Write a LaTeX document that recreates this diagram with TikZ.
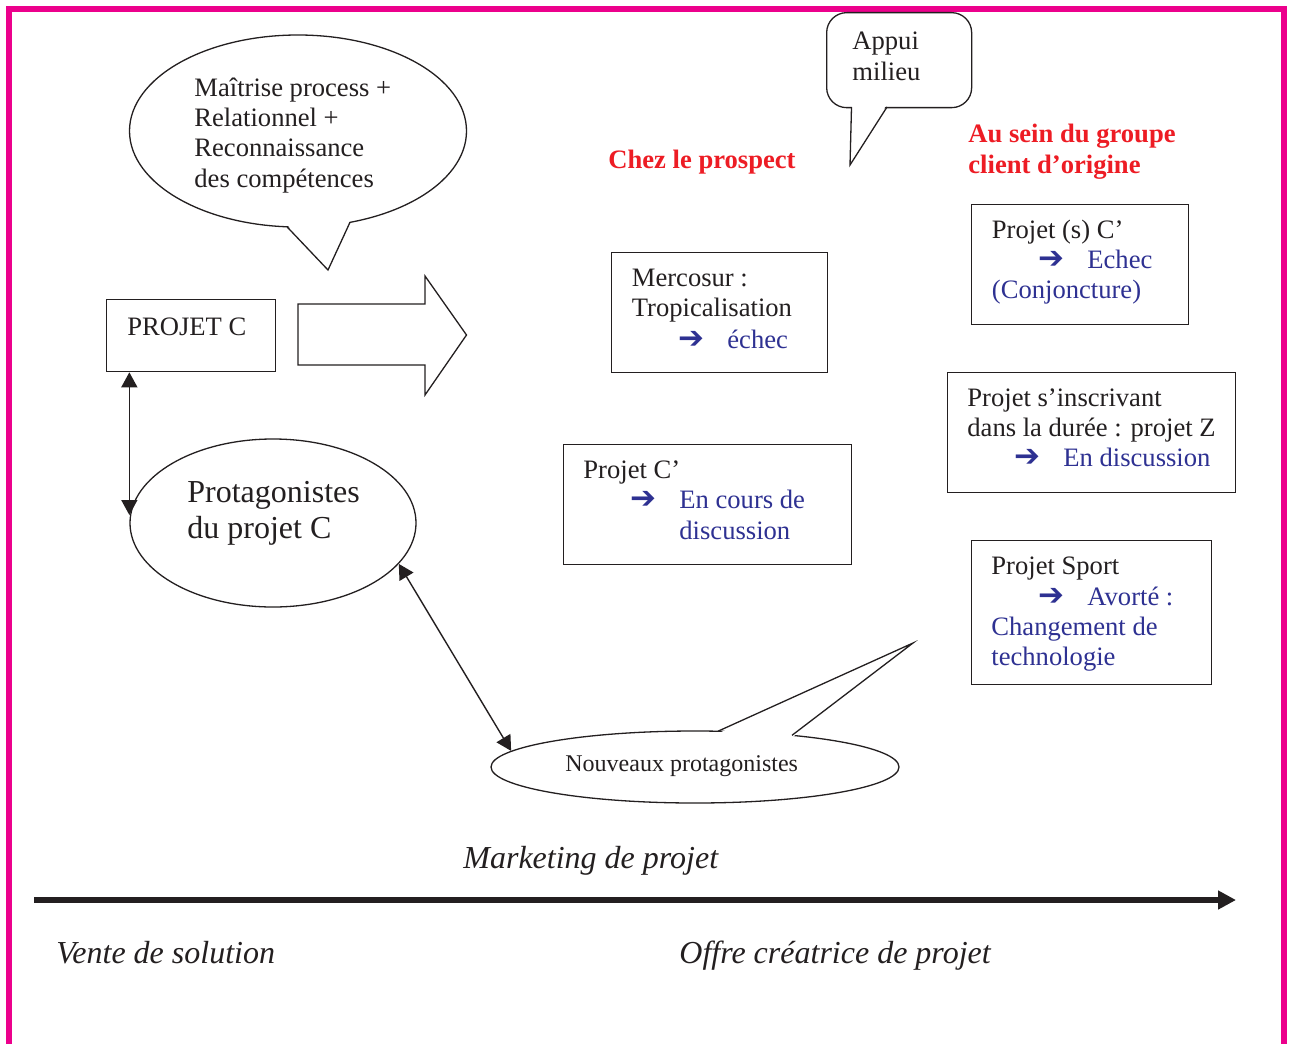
\documentclass[tikz,border=0pt]{standalone}
\usepackage{fontspec}
\setmainfont{Liberation Serif}
\newfontfamily\dejavu{DejaVu Sans}
\usetikzlibrary{shapes.geometric,arrows.meta}
\definecolor{ink}{RGB}{35,31,32}
\definecolor{myblue}{RGB}{46,49,146}
\definecolor{myred}{RGB}{237,28,36}
\definecolor{mymag}{RGB}{236,0,140}
\tikzset{
  lw/.style={line width=0.65pt},
  box/.style={draw=ink, lw, anchor=north west, inner sep=0pt, fill=white},
  bubble/.style={draw=ink, lw, ellipse, inner sep=0pt, fill=white},
  txt/.style={anchor=base west, inner sep=0pt, text=ink, font=\fontsize{13.3}{15.3}\selectfont},
  btxt/.style={txt, text=myblue},
  rtxt/.style={txt, text=myred, font=\bfseries\fontsize{13.3}{15.3}\selectfont},
  itxt/.style={txt, font=\itshape\fontsize{16}{18}\selectfont},
  arr/.style={anchor=base west, inner sep=0pt, text=myblue, font=\dejavu\bfseries\fontsize{15.5}{17}\selectfont},
  dbl/.style={draw=ink, line width=0.7pt, {Triangle[length=7.5pt,width=8pt]}-{Triangle[length=7.5pt,width=8pt]}},
}
\begin{document}
\begin{tikzpicture}[x=0.5pt,y=-0.5pt]
\useasboundingbox (0,0) rectangle (1293,1043);
% frame
\draw[mymag, line width=3.25pt] (9,1100) -- (9,9) -- (1284,9) -- (1284,1100);

% bubble 1
\node[bubble, minimum width=168.5pt, minimum height=96pt] (e1) at (298,131) {};
\fill[white] (287,224.8) -- (328,270) -- (350,220.3) -- cycle;
\draw[ink, lw] (287,226.8) -- (328,270) -- (350,222.3);
\node[txt] (e1a) at (194,96.7) {Maîtrise process +};
\node[txt] (e1b) at (194,126.8) {Relationnel +};
\node[txt] (e1c) at (194,157) {Reconnaissance};
\node[txt] (e1d) at (194,187.2) {des compétences};

% Projet C
\node[box, minimum width=84.5pt, minimum height=36pt] (pc) at (106,299) {};
\node[txt] (pct) at (127,335) {PROJET C};

% block arrow
\draw[ink, lw, fill=white] (298,304) -- (425,304) -- (425,276) -- (466.5,335) -- (425,395) -- (425,365) -- (298,365) -- cycle;

% Protagonistes
\node[bubble, minimum width=143pt, minimum height=84pt] (prot) at (273,523) {};
\node[txt, font=\fontsize{16}{18}\selectfont] (pr1) at (187,502.5) {Protagonistes};
\node[txt, font=\fontsize{16}{18}\selectfont] (pr2) at (187,538.5) {du projet C};
\draw[dbl, shorten >=4pt] (prot.west |- pc.south) -- (prot.west);

% Appui milieu
\node[box, rounded corners=10pt, minimum width=72.5pt, minimum height=47.5pt] (ap) at (826,12) {};
\fill[white] (851.5,104) -- (850,165) -- (887,104) -- cycle;
\draw[ink, lw] (851.5,107) -- (850,165) -- (887,107);
\node[txt] (ap1) at (852,50) {Appui};
\node[txt] (ap2) at (852,80.5) {milieu};

% headings
\node[rtxt] (h1) at (608,168.3) {Chez le prospect};
\node[rtxt] (h2) at (968,142.7) {Au sein du groupe};
\node[rtxt] (h3) at (968,173.3) {client d’origine};

% Mercosur
\node[box, minimum width=108pt, minimum height=60pt] (mer) at (610.5,251.5) {};
\node[txt] (mer1) at (631.5,286.7) {Mercosur :};
\node[txt] (mer2) at (631.5,316.5) {Tropicalisation};
\node[arr] (mer3) at (678,348.3) {➔};
\node[btxt] (mer4) at (727,348.3) {échec};

% Projet (s) C'
\node[box, minimum width=108.5pt, minimum height=60pt] (ps) at (970.5,203.5) {};
\node[txt] (ps1) at (991.5,238.3) {Projet (s) C’};
\node[arr] (ps2) at (1038,268.3) {➔};
\node[btxt] (ps3) at (1087,268.3) {Echec};
\node[btxt] (ps4) at (991.5,298.6) {(Conjoncture)};

% Projet s'inscrivant
\node[box, minimum width=144pt, minimum height=60pt] (pz) at (946.5,371.5) {};
\node[txt] (pz1) at (967,406.5) {Projet s’inscrivant};
\node[txt] (pz2) at (967,436.7) {dans la durée : projet Z};
\node[arr] (pz3) at (1014,466.8) {➔};
\node[btxt] (pz4) at (1063,466.8) {En discussion};

% Projet C'
\node[box, minimum width=144pt, minimum height=60pt] (pcp) at (562.5,443.5) {};
\node[txt] (pcp1) at (583,478.5) {Projet C’};
\node[arr] (pcp2) at (630,508.7) {➔};
\node[btxt] (pcp3) at (679,508.7) {En cours de};
\node[btxt] (pcp4) at (679,539) {discussion};

% Projet Sport
\node[box, minimum width=120pt, minimum height=72pt] (sp) at (970.5,539.5) {};
\node[txt] (sp1) at (991,574.8) {Projet Sport};
\node[arr] (sp2) at (1038,605) {➔};
\node[btxt] (sp3) at (1087,605) {Avorté :};
\node[btxt] (sp4) at (991,635.2) {Changement de};
\node[btxt] (sp5) at (991,665.4) {technologie};

% Nouveaux protagonistes
\node[bubble, minimum width=204pt, minimum height=36pt] (np) at (695,767) {};
\fill[white] (718,733.5) -- (913,643) -- (792,737.5) -- cycle;
\draw[ink, lw] (718,731.2) -- (913,643) -- (792,735.3);
\node[txt, font=\fontsize{12}{14}\selectfont] (npt) at (565,771.7) {Nouveaux protagonistes};
\draw[dbl] (prot.-18) -- (np.175);

% axis
\node[itxt] (mk) at (463,868) {Marketing de projet};
\coordinate (axL) at (34,900);
\coordinate (axR) at (1236,900);
\draw[ink, line width=3.3pt, -{Triangle[length=9pt,width=9pt]}] (axL) -- (axR);
\node[itxt] (vs) at (56,963) {Vente de solution};
\node[itxt] (oc) at (679,963) {Offre créatrice de projet};
\end{tikzpicture}
\end{document}
